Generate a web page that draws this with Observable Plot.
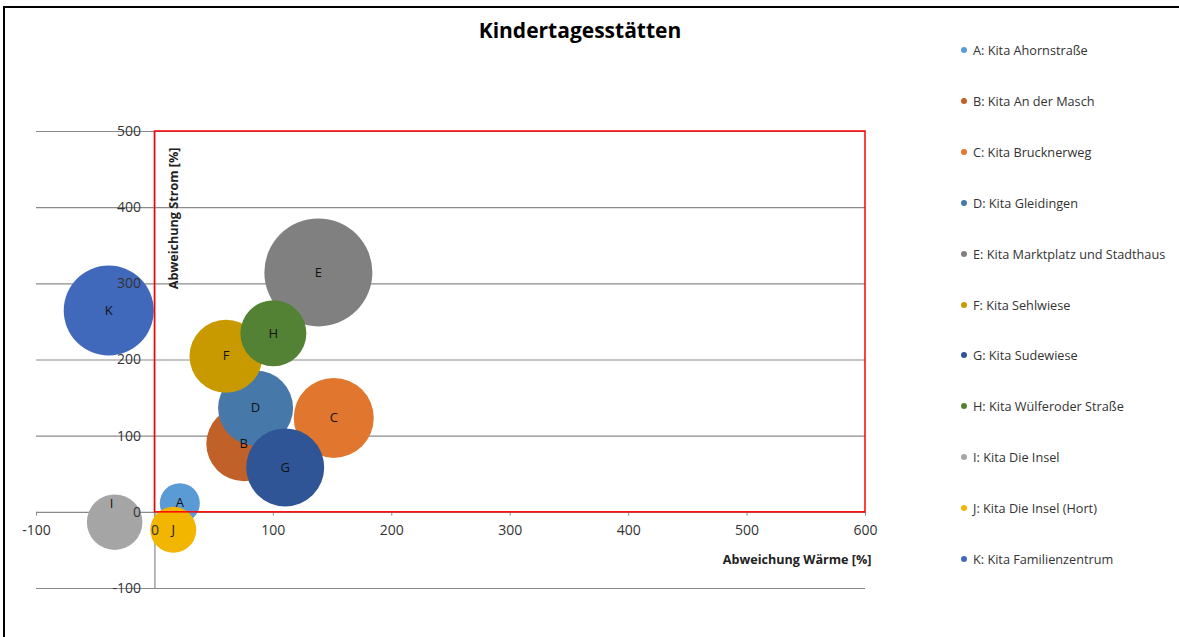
<!DOCTYPE html>
<html>
<head>
<meta charset="utf-8">
<script src="https://cdn.jsdelivr.net/npm/d3@7"></script>
<script src="https://cdn.jsdelivr.net/npm/@observablehq/plot@0.6"></script>
<style>
  html, body { margin: 0; padding: 0; background: #fff; }
  #wrap { position: relative; width: 1179px; height: 637px; overflow: hidden; font-family: "Open Sans", sans-serif; }
  #frame { position: absolute; left: 3px; top: 6px; right: -10px; bottom: -10px; border-top: 2px solid #000; border-left: 2px solid #000; }
  #title { position: absolute; left: 380px; width: 400px; top: 15px; text-align: center; font-weight: bold; font-size: 21px; color: #000; line-height: 30px; }
  #legend { position: absolute; left: 961px; top: 40px; }
  .item { position: absolute; left: 0; height: 20px; white-space: nowrap; font-size: 12.7px; color: #333; line-height: 20px; }
  .item .sw { position: absolute; left: 0; top: 7px; width: 6px; height: 6px; border-radius: 50%; }
  .item span.t { position: absolute; left: 12px; top: 0; }
  #chart { position: absolute; left: 0; top: 0; }
</style>
</head>
<body>
<div id="wrap">
  <div id="frame"></div>
  <div id="chart"></div>
  <div id="title">Kindertagesstätten</div>
  <div id="legend"></div>
</div>
<script>
// ---- data ----
const letters = ["A", "B", "C", "D", "E", "F", "G", "H", "I", "J", "K"];
const names = [
  "A: Kita Ahornstraße",
  "B: Kita An der Masch",
  "C: Kita Brucknerweg",
  "D: Kita Gleidingen",
  "E: Kita Marktplatz und Stadthaus",
  "F: Kita Sehlwiese",
  "G: Kita Sudewiese",
  "H: Kita Wülferoder Straße",
  "I: Kita Die Insel",
  "J: Kita Die Insel (Hort)",
  "K: Kita Familienzentrum"
];
const abwWaerme = [21, 75, 151, 85, 138, 60, 110, 100, -34, 15.5, -39];
const abwStrom  = [12, 90, 124, 137, 315, 205, 59, 235, -13, -23, 265];
const bubbleSize = [400, 1400, 1600, 1406, 2916, 1332, 1521, 1089, 770, 529, 2025];
const colors = ["#5B9BD5", "#C0612A", "#E1762F", "#4679A9", "#808080", "#C89A00", "#2F5597", "#548235", "#A5A5A5", "#F2B500", "#4169BB"];

const xTicks = [-100, 0, 100, 200, 300, 400, 500, 600];
const yTicks = [-100, 0, 100, 200, 300, 400, 500];
const gridY = [-100, 100, 200, 300, 400, 500];
const xDomain = [-100, 600];
const yDomain = [-100, 500];
const targetX = [0, 600];
const targetY = [0, 500];

const data = letters.map((l, i) => ({
  letter: l, name: names[i], x: abwWaerme[i], y: abwStrom[i], size: bubbleSize[i]
}));
const box = [{x1: targetX[0], x2: targetX[1], y1: targetY[0], y2: targetY[1]}];

const chart = Plot.plot({
  width: 1179,
  height: 637,
  marginLeft: 36,
  marginRight: 314,
  marginTop: 131,
  marginBottom: 49,
  style: { fontFamily: "Open Sans, sans-serif", background: "transparent", color: "#333" },
  x: { domain: xDomain, axis: null },
  y: { domain: yDomain, axis: null },
  r: { type: "sqrt", domain: [0, d3.max(bubbleSize)], range: [0, 54] },
  color: { domain: letters, range: colors },
  marks: [
    Plot.ruleY(gridY, { y: d => d, x1: xDomain[0], x2: xDomain[1], stroke: "#8a8a8a", strokeWidth: 1.2 }),
    Plot.ruleY([0], { x1: xDomain[0], x2: xDomain[1], stroke: "#8a8a8a", strokeWidth: 1.2 }),
    Plot.ruleX([0], { y1: yDomain[0], y2: yDomain[1], stroke: "#8a8a8a", strokeWidth: 1.2 }),
    Plot.ruleX(xTicks, { x: d => d, y1: 0, y2: -5, stroke: "#8a8a8a" }),
    Plot.dot(data, { x: "x", y: "y", r: "size", fill: "letter", fillOpacity: 1, stroke: "none", sort: null }),
    Plot.rect(box, { x1: "x1", x2: "x2", y1: "y1", y2: "y2", fill: "none", stroke: "#FF0000", strokeWidth: 1.5 }),
    Plot.text(data.filter(d => d.letter !== "I"), { x: "x", y: "y", text: "letter", fontSize: 13, fill: "#111" }),
    Plot.text(data.filter(d => d.letter === "I"), { x: "x", y: "y", text: "letter", fontSize: 13, fill: "#111", dy: -18, dx: -3 }),
    Plot.text(xTicks, { x: d => d, y: 0, text: d => String(d), dy: 18, fontSize: 14, fill: "#333" }),
    Plot.text(yTicks, { x: 0, y: d => d, text: d => String(d), dx: -14, textAnchor: "end", fontSize: 14, fill: "#333" }),
    Plot.text(["Abweichung Strom [%]"], { x: 0, y: yDomain[1], text: d => d, rotate: -90, textAnchor: "end", dx: 19, dy: 16, fontSize: 12.6, fontWeight: "bold", fill: "#222" }),
    Plot.text(["Abweichung Wärme [%]"], { frameAnchor: "bottom-right", text: d => d, textAnchor: "end", dx: 6, dy: -25, fontSize: 12.6, fontWeight: "bold", fill: "#222" })
  ]
});
document.getElementById("chart").appendChild(chart);

// legend
const legend = d3.select("#legend");
names.forEach((n, i) => {
  const it = legend.append("div").attr("class", "item").style("top", (i * 50.9) + "px");
  it.append("div").attr("class", "sw").style("background", colors[i]);
  it.append("span").attr("class", "t").text(n);
});
</script>
</body>
</html>
